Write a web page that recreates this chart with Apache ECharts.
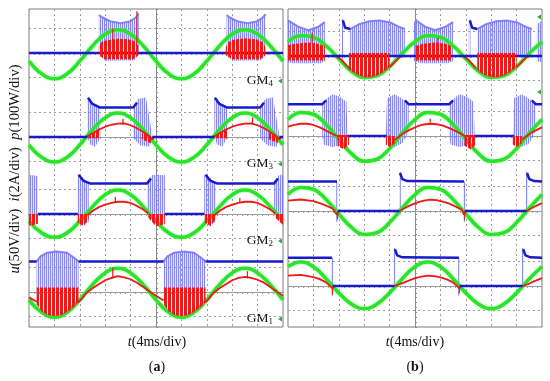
<!DOCTYPE html>
<html><head><meta charset="utf-8">
<script src="https://cdn.jsdelivr.net/npm/echarts@6/dist/echarts.min.js"></script>
<style>html,body{margin:0;padding:0;background:#fff}#c{width:550px;height:381px}</style>
</head><body><div id="c"></div>
<script>
// ================= DATA (time in scope divisions 0..10, amplitude in divisions) =================
const stripLabels = ['4', '3', '2', '1'];            // GM subscripts, top to bottom
const panelLabels = ['a', 'b'];
const xTitle = '(4ms/div)';
// green: voltage, sampled every 0.5 div
const greenA4 = [-0.33,-0.85,-1.05,-0.85,-0.33,0.29,0.77,0.95,0.77,0.29,-0.33,-0.85,-1.05,-0.85,-0.33,0.29,0.77,0.95,0.77,0.29,-0.33];
const greenA3 = [-0.32,-0.83,-1.02,-0.83,-0.32,0.3,0.79,0.98,0.79,0.3,-0.32,-0.83,-1.02,-0.83,-0.32,0.3,0.79,0.98,0.79,0.3,-0.32];
const greenA2 = [-0.29,-0.77,-0.95,-0.77,-0.29,0.3,0.79,0.98,0.79,0.3,-0.29,-0.77,-0.95,-0.77,-0.29,0.3,0.79,0.98,0.79,0.3,-0.29];
const greenA1 = [-0.32,-0.83,-1.03,-0.83,-0.32,0.3,0.78,0.97,0.78,0.3,-0.32,-0.83,-1.03,-0.83,-0.32,0.3,0.78,0.97,0.78,0.3,-0.32];
const greenB4 = [0.58,0.83,0.77,0.41,-0.11,-0.62,-0.88,-0.81,-0.43,0.11,0.58,0.83,0.77,0.41,-0.11,-0.62,-0.88,-0.81,-0.43,0.11,0.58];
const greenB3 = [0.67,0.96,0.89,0.47,-0.13,-0.72,-1.03,-0.95,-0.51,0.12,0.67,0.96,0.89,0.47,-0.13,-0.72,-1.03,-0.95,-0.51,0.12,0.67];
const greenB2 = [0.67,0.96,0.89,0.47,-0.12,-0.67,-0.96,-0.89,-0.47,0.12,0.67,0.96,0.89,0.47,-0.12,-0.67,-0.96,-0.89,-0.47,0.12,0.67];
const greenB1 = [0.79,0.98,0.79,0.3,-0.28,-0.74,-0.92,-0.74,-0.28,0.3,0.79,0.98,0.79,0.3,-0.28,-0.74,-0.92,-0.74,-0.28,0.3,0.79];

// ---- (a) GM4
const blueA4 = [[0,0],[10,0]];
const redA4 = [[0,0],[10,0]];
const redBlkA4 = [
 [[2.75,0.25],[2.85,0.45],[3.1,0.52],[3.5,0.58],[3.9,0.56],[4.2,0.48],[4.3,0.3],[4.3,-0.1],[4.1,-0.25],[3.0,-0.25],[2.75,-0.1]],
 [[7.75,0.25],[7.85,0.45],[8.1,0.55],[8.5,0.6],[8.9,0.56],[9.2,0.45],[9.3,0.25],[9.3,-0.1],[9.1,-0.25],[8.0,-0.25],[7.75,-0.1]]];
const spikeA4 = [[3.3,0.5],[3.3,1.0],null,[4.25,0.4],[4.25,1.7]];
const lavA4 = [
 [[2.75,1.55],[2.9,1.45],[3.2,1.3],[3.6,1.22],[4.0,1.3],[4.2,1.45],[4.32,1.62],[4.32,-0.05],[4.15,-0.3],[3.0,-0.32],[2.75,-0.05]],
 [[7.78,1.55],[7.9,1.45],[8.2,1.3],[8.6,1.22],[9.0,1.3],[9.2,1.45],[9.32,1.58],[9.32,-0.05],[9.15,-0.3],[8.0,-0.32],[7.78,-0.05]]];
const edgeA4 = [[2.75,1.55],[2.9,1.45],[3.2,1.3],[3.6,1.22],[4.0,1.3],[4.2,1.45],[4.32,1.62],null,
 [7.78,1.55],[7.9,1.45],[8.2,1.3],[8.6,1.22],[9.0,1.3],[9.2,1.45],[9.32,1.58]];
// ---- (a) GM3
const blueA3 = [[0,0],[2.3,0],null,[2.32,1.6],[2.5,1.35],[2.8,1.2],[4.1,1.2],[4.25,1.4],null,[4.85,0],[7.3,0],null,
 [7.32,1.6],[7.5,1.35],[7.8,1.2],[9.1,1.2],[9.25,1.4],null,[9.85,0],[10,0]];
const redA3 = [[0,0],[2.25,0],[2.5,0.15],[2.75,0.3],[3.0,0.42],[3.25,0.5],[3.5,0.55],[3.75,0.56],[4.0,0.48],[4.25,0.36],[4.5,0.2],[4.75,0.02],[4.85,-0.1],[4.95,0],
 [7.25,0],[7.5,0.15],[7.75,0.3],[8.0,0.42],[8.25,0.5],[8.5,0.55],[8.75,0.56],[9.0,0.48],[9.25,0.36],[9.5,0.2],[9.75,0.02],[9.85,-0.1],[9.95,0],[10,0]];
const redBlkA3 = [
 [[2.3,0],[2.8,0.32],[2.8,-0.05],[2.3,-0.05]],
 [[4.45,0.18],[4.8,0.02],[4.8,-0.25],[4.45,-0.1]],
 [[7.3,0],[7.8,0.32],[7.8,-0.05],[7.3,-0.05]],
 [[9.45,0.18],[9.8,0.02],[9.8,-0.25],[9.45,-0.1]]];
const spikeA3 = [[3.7,0.5],[3.7,0.75],null,[8.8,0.5],[8.8,0.8]];
const lavA3 = [
 [[2.3,0],[2.3,1.62],[2.55,1.35],[2.8,1.2],[2.8,-0.05],[2.6,-0.4],[2.4,-0.3]],
 [[4.1,1.2],[4.3,1.55],[4.6,1.62],[4.85,0.1],[4.75,-0.4],[4.4,-0.35],[4.1,-0.05]],
 [[7.3,0],[7.3,1.62],[7.55,1.35],[7.8,1.2],[7.8,-0.05],[7.6,-0.4],[7.4,-0.3]],
 [[9.1,1.2],[9.3,1.55],[9.6,1.62],[9.85,0.1],[9.75,-0.4],[9.4,-0.35],[9.1,-0.05]]];
const edgeA3 = [];
// ---- (a) GM2
const blueA2 = [[0.35,0],[1.92,0],null,[1.95,1.6],[2.15,1.35],[2.4,1.25],[4.65,1.25],[4.8,1.45],null,[5.35,0],[6.9,0],null,
 [6.95,1.6],[7.15,1.35],[7.4,1.25],[9.65,1.25],[9.8,1.45]];
const redA2 = [[0.35,0],[1.9,0],null,[2.3,-0.05],[2.5,0.12],[2.75,0.28],[3.0,0.38],[3.25,0.45],[3.5,0.5],[3.75,0.5],[4.0,0.45],[4.25,0.33],[4.5,0.18],[4.7,0.02],null,
 [5.35,0],[6.9,0],null,[7.3,-0.05],[7.5,0.12],[7.75,0.28],[8.0,0.38],[8.25,0.45],[8.5,0.5],[8.75,0.5],[9.0,0.45],[9.25,0.33],[9.5,0.18],[9.7,0.02]];
const redBlkA2 = [
 [[0,0],[0.35,0],[0.35,-0.4],[0.1,-0.48],[0,-0.45]],
 [[1.92,0],[2.35,0],[2.35,-0.2],[2.15,-0.5],[1.92,-0.35]],
 [[4.7,0],[5.35,0],[5.35,-0.42],[5.0,-0.5],[4.7,-0.15]],
 [[6.92,0],[7.35,0],[7.35,-0.2],[7.15,-0.5],[6.92,-0.35]],
 [[9.7,0],[10,0],[10,-0.45],[9.7,-0.15]]];
const spikeA2 = [[3.4,0.45],[3.4,0.7],null,[8.3,0.45],[8.3,0.65]];
const lavA2 = [
 [[0,1.6],[0.35,1.55],[0.35,-0.1],[0.15,-0.35],[0,-0.3]],
 [[1.92,1.6],[2.1,1.5],[2.35,1.25],[2.35,-0.35],[2.1,-0.4],[1.92,0]],
 [[4.65,1.25],[4.85,1.6],[5.35,1.58],[5.35,-0.1],[5.1,-0.38],[4.65,0]],
 [[6.9,1.6],[7.1,1.5],[7.35,1.25],[7.35,-0.35],[7.1,-0.4],[6.9,0]],
 [[9.65,1.25],[9.85,1.6],[10,1.6],[10,-0.3],[9.65,0]]];
const edgeA2 = [];
// ---- (a) GM1
const blueA1 = [[0,1.25],[0.3,1.25],null,[1.95,1.25],[5.3,1.25],null,[6.95,1.25],[10,1.25]];
const redA1 = [[0,-0.22],[0.3,-0.4],null,[1.95,-0.42],[2.1,-0.25],[2.25,-0.05],[2.5,0.15],[2.75,0.32],[3.0,0.48],[3.25,0.58],[3.5,0.65],[3.75,0.6],[4.0,0.52],[4.25,0.38],[4.5,0.2],[4.75,0.02],[5.0,-0.15],[5.3,-0.35],null,
 [6.95,-0.42],[7.1,-0.25],[7.25,-0.05],[7.5,0.15],[7.75,0.32],[8.0,0.48],[8.25,0.58],[8.5,0.62],[8.75,0.58],[9.0,0.5],[9.25,0.38],[9.5,0.2],[9.75,0.02],[10,-0.15]];
const redBlkA1 = [
 [[0.3,0.18],[1.95,0.18],[1.95,-0.42],[1.75,-0.62],[1.5,-0.82],[1.25,-0.95],[1.0,-0.98],[0.75,-0.95],[0.5,-0.8],[0.3,-0.5]],
 [[5.3,0.18],[6.95,0.18],[6.95,-0.42],[6.75,-0.62],[6.5,-0.82],[6.25,-0.95],[6.0,-0.98],[5.75,-0.95],[5.5,-0.8],[5.3,-0.5]]];
const spikeA1 = [[3.3,0.55],[3.3,1.0],null,[8.6,0.55],[8.6,0.85]];
const lavA1 = [
 [[0.3,1.25],[0.45,1.45],[0.7,1.6],[1.1,1.65],[1.5,1.6],[1.75,1.42],[1.95,1.25],[1.95,0.1],[0.3,0.1]],
 [[5.3,1.25],[5.45,1.45],[5.7,1.6],[6.1,1.65],[6.5,1.6],[6.75,1.42],[6.95,1.25],[6.95,0.1],[5.3,0.1]]];
const edgeA1 = [[0.3,1.25],[0.45,1.45],[0.7,1.6],[1.1,1.65],[1.5,1.6],[1.75,1.42],[1.95,1.25],null,
 [5.3,1.25],[5.45,1.45],[5.7,1.6],[6.1,1.65],[6.5,1.6],[6.75,1.42],[6.95,1.25]];
// ---- (b) GM4
const blueB4 = [[0,0],[10,0],null,[2.16,1.45],[2.25,1.15],[2.45,1.1],null,[7.16,1.45],[7.25,1.15],[7.45,1.1]];
const redB4 = [[1.45,0],[1.9,0],[2.1,-0.15],[2.4,-0.5],null,[4.0,-0.45],[4.2,-0.25],[4.4,-0.05],[4.6,0],[4.95,0],null,
 [6.5,0],[6.9,0],[7.1,-0.15],[7.4,-0.5],null,[9.0,-0.45],[9.2,-0.25],[9.4,-0.05],[9.6,0],[9.8,0]];
const redBlkB4 = [
 [[0,0.45],[0.3,0.5],[0.8,0.55],[1.2,0.5],[1.45,0.4],[1.45,-0.18],[0,-0.18]],
 [[2.4,0.12],[4.0,0.12],[4.0,-0.45],[3.75,-0.65],[3.5,-0.8],[3.25,-0.87],[3.0,-0.87],[2.75,-0.78],[2.5,-0.62],[2.4,-0.55]],
 [[5.0,0.4],[5.3,0.5],[5.8,0.55],[6.2,0.5],[6.45,0.4],[6.45,-0.18],[5.0,-0.18]],
 [[7.45,0.12],[9.0,0.12],[9.0,-0.45],[8.75,-0.65],[8.5,-0.8],[8.25,-0.87],[8.0,-0.87],[7.75,-0.78],[7.5,-0.62],[7.45,-0.55]]];
const spikeB4 = [[0.95,0.5],[0.95,0.95],null,[5.9,0.5],[5.9,0.75]];
const lavB4 = [
 [[0,1.45],[0.4,1.2],[0.8,1.05],[1.2,1.2],[1.45,1.38],[1.45,-0.2],[1.3,-0.3],[0.2,-0.3],[0,-0.25]],
 [[2.12,1.5],[2.18,1.5],[2.18,-0.1],[2.12,-0.1]],
 [[2.45,1.1],[2.8,1.3],[3.2,1.42],[3.6,1.45],[4.0,1.38],[4.35,1.2],[4.6,1.1],[4.6,0],[2.45,0]],
 [[4.95,1.4],[5.05,1.45],[5.4,1.2],[5.8,1.05],[6.2,1.2],[6.5,1.38],[6.5,-0.2],[6.3,-0.3],[5.2,-0.3],[4.95,-0.2]],
 [[7.12,1.5],[7.18,1.5],[7.18,-0.1],[7.12,-0.1]],
 [[7.45,1.1],[7.8,1.3],[8.2,1.42],[8.6,1.45],[9.0,1.38],[9.35,1.2],[9.6,1.1],[9.6,0],[7.45,0]],
 [[9.8,1.3],[10,1.45],[10,-0.25],[9.8,-0.2]]];
const edgeB4 = [[0,1.45],[0.4,1.2],[0.8,1.05],[1.2,1.2],[1.45,1.38],null,[2.45,1.1],[2.8,1.3],[3.2,1.42],[3.6,1.45],[4.0,1.38],[4.35,1.2],[4.6,1.1],null,
 [5.05,1.45],[5.4,1.2],[5.8,1.05],[6.2,1.2],[6.5,1.38],null,[7.45,1.1],[7.8,1.3],[8.2,1.42],[8.6,1.45],[9.0,1.38],[9.35,1.2],[9.6,1.1]];
// ---- (b) GM3
const blueB3 = [[0,1.3],[1.35,1.3],[1.5,1.45],null,[2.35,0],[3.9,0],null,[4.6,1.45],[4.75,1.3],[6.35,1.3],[6.5,1.45],null,
 [7.35,0],[8.9,0],null,[9.6,1.45],[9.75,1.3],[10,1.3]];
const redB3 = [[0,0.38],[0.25,0.45],[0.5,0.5],[0.75,0.5],[1.0,0.45],[1.25,0.35],[1.5,0.22],[1.75,0.08],[1.95,0],[2.4,0],[3.85,0],null,
 [4.2,-0.15],[4.4,0],[4.6,0.15],[4.85,0.28],[5.1,0.4],[5.35,0.47],[5.6,0.5],[5.85,0.48],[6.1,0.42],[6.35,0.32],[6.6,0.2],[6.85,0.07],[6.95,0],[7.4,0],[8.85,0],null,
 [9.2,-0.15],[9.4,0],[9.6,0.15],[9.85,0.28],[10,0.35]];
const redBlkB3 = [
 [[1.95,0],[2.4,0],[2.4,-0.35],[2.2,-0.55],[1.95,-0.4]],
 [[3.85,0],[4.2,0],[4.2,-0.3],[4.0,-0.45],[3.85,-0.35]],
 [[6.95,0],[7.4,0],[7.4,-0.35],[7.2,-0.55],[6.95,-0.4]],
 [[8.85,0],[9.2,0],[9.2,-0.3],[9.0,-0.45],[8.85,-0.35]]];
const spikeB3 = [[5.6,0.45],[5.6,0.7]];
const lavB3 = [
 [[1.35,1.3],[1.55,1.55],[1.75,1.7],[2.05,1.6],[2.3,1.4],[2.35,0],[2.2,-0.35],[1.75,-0.45],[1.4,-0.35],[1.35,0]],
 [[3.85,0],[3.9,1.55],[4.2,1.7],[4.45,1.55],[4.75,1.3],[4.75,0.2],[4.5,-0.3],[4.2,-0.45],[3.9,-0.3]],
 [[6.35,1.3],[6.55,1.55],[6.75,1.7],[7.05,1.6],[7.3,1.4],[7.35,0],[7.2,-0.35],[6.75,-0.45],[6.4,-0.35],[6.35,0]],
 [[8.85,0],[8.9,1.55],[9.2,1.7],[9.45,1.55],[9.75,1.3],[9.75,0.2],[9.5,-0.3],[9.2,-0.45],[8.9,-0.3]]];
const edgeB3 = [];
// ---- (b) GM2
const blueB2 = [[0,1.2],[1.93,1.2],null,[1.96,0],[4.38,0],null,[4.41,1.55],[4.5,1.3],[4.7,1.22],[6.93,1.2],null,[6.96,0],[9.38,0],null,[9.41,1.55],[9.5,1.3],[9.7,1.22],[10,1.2]];
const redB2 = [[0,0.42],[0.5,0.47],[1.0,0.4],[1.25,0.32],[1.5,0.22],[1.75,0.1],[1.93,-0.15],[2.0,0],[4.4,0],[4.6,0.12],[4.85,0.25],[5.1,0.35],[5.35,0.42],[5.6,0.46],[5.85,0.44],
 [6.1,0.38],[6.35,0.3],[6.6,0.18],[6.85,0.05],[6.93,-0.15],[7.0,0],[9.4,0],[9.6,0.12],[9.85,0.25],[10,0.32]];
const redBlkB2 = [];
const spikeB2 = [[1.95,0],[1.95,-0.35],null,[6.95,0],[6.95,-0.35]];
const lavB2 = [
 [[1.9,1.2],[1.97,1.2],[1.97,-0.45],[1.9,-0.45]],
 [[4.37,1.6],[4.44,1.6],[4.44,-0.15],[4.37,-0.15]],
 [[6.9,1.2],[6.97,1.2],[6.97,-0.45],[6.9,-0.45]],
 [[9.37,1.6],[9.44,1.6],[9.44,-0.15],[9.37,-0.15]]];
const edgeB2 = [];
// ---- (b) GM1
const blueB1 = [[0,1.15],[1.73,1.15],null,[1.76,0],[4.18,0],null,[4.21,1.5],[4.3,1.25],[4.5,1.17],[6.73,1.15],null,[6.76,0],[9.23,0],null,[9.26,1.5],[9.35,1.25],[9.55,1.17],[10,1.15]];
const redB1 = [[0,0.42],[0.5,0.45],[1.0,0.36],[1.25,0.28],[1.5,0.15],[1.75,-0.1],[1.8,0],[4.2,0],[4.5,0.12],[4.75,0.22],[5.0,0.32],[5.25,0.38],[5.5,0.42],[5.75,0.4],
 [6.0,0.35],[6.25,0.27],[6.5,0.15],[6.75,-0.1],[6.8,0],[9.25,0],[9.5,0.1],[9.75,0.22],[10,0.32]];
const redBlkB1 = [];
const spikeB1 = [[1.75,0],[1.75,-0.35],null,[6.75,0],[6.75,-0.3]];
const lavB1 = [
 [[1.7,1.15],[1.77,1.15],[1.77,-0.4],[1.7,-0.4]],
 [[4.16,1.55],[4.23,1.55],[4.23,-0.1],[4.16,-0.1]],
 [[6.7,1.15],[6.77,1.15],[6.77,-0.4],[6.7,-0.4]],
 [[9.21,1.55],[9.28,1.55],[9.28,-0.1],[9.21,-0.1]]];
const edgeB1 = [];

// ================= LAYOUT / STYLE =================
const FONT = 'Liberation Serif';
const DIV = 24.5;
const panelLeft = [29, 288], panelW = 254, panelTop = 9, panelH = 318;
const zeroY = [[53,137,214,292],[56,136,211,286]];
const C_GREEN = '#2ae42a', C_BLUE = '#1a1acc', C_RED = '#f01818';
const GRIDC = '#9c9c9c';

const strips = [
 {p:0,k:0,green:greenA4,blue:blueA4,red:redA4,blk:redBlkA4,spk:spikeA4,lav:lavA4,edge:edgeA4},
 {p:0,k:1,green:greenA3,blue:blueA3,red:redA3,blk:redBlkA3,spk:spikeA3,lav:lavA3,edge:edgeA3},
 {p:0,k:2,green:greenA2,blue:blueA2,red:redA2,blk:redBlkA2,spk:spikeA2,lav:lavA2,edge:edgeA2},
 {p:0,k:3,green:greenA1,blue:blueA1,red:redA1,blk:redBlkA1,spk:spikeA1,lav:lavA1,edge:edgeA1},
 {p:1,k:0,green:greenB4,blue:blueB4,red:redB4,blk:redBlkB4,spk:spikeB4,lav:lavB4,edge:edgeB4},
 {p:1,k:1,green:greenB3,blue:blueB3,red:redB3,blk:redBlkB3,spk:spikeB3,lav:lavB3,edge:edgeB3},
 {p:1,k:2,green:greenB2,blue:blueB2,red:redB2,blk:redBlkB2,spk:spikeB2,lav:lavB2,edge:edgeB2},
 {p:1,k:3,green:greenB1,blue:blueB1,red:redB1,blk:redBlkB1,spk:spikeB1,lav:lavB1,edge:edgeB1}
];

function stripeCanvas(color, period, w) {
  const c = document.createElement('canvas'); c.width = period; c.height = 4;
  const g = c.getContext('2d'); g.fillStyle = color; g.fillRect(0, 0, w, 4); return c;
}
const redPat = {image: stripeCanvas(C_RED, 4, 3), repeat: 'repeat'};
const lavPat = {image: stripeCanvas('rgba(105,105,245,0.75)', 2, 1), repeat: 'repeat'};

const brk = a => a.map(p => p === null ? ['-', '-'] : p);

const grid = [], xAxis = [], yAxis = [], series = [];
const noAxis = {axisLabel:{show:false}, axisTick:{show:false}};
for (let p = 0; p < 2; p++) {
  grid.push({left: panelLeft[p], top: panelTop, width: panelW, height: panelH, show: true,
    borderColor: '#7a7a7a', borderWidth: 1, backgroundColor: 'transparent'});
  xAxis.push({gridIndex: p, type: 'value', min: -5, max: 5, interval: 1, ...noAxis, axisLine:{show:false},
    splitLine:{show:true, showMinLine:false, showMaxLine:false, lineStyle:{color:GRIDC, type:[2,3], width:1}}});
  yAxis.push({gridIndex: p, type: 'value', min: 0, max: 65, interval: 1, axisLabel:{show:false},
    axisLine:{show:true, onZero:true, lineStyle:{color:'#8a8a8a', width:1}},
    axisTick:{show:true, inside:true, length:2, lineStyle:{color:'#8a8a8a'}}, splitLine:{show:false}});
}
strips.forEach((s, i) => {
  const g = i + 2;
  const zy = zeroY[s.p][s.k];
  grid.push({left: panelLeft[s.p], top: zy - 2 * DIV, width: panelW, height: 4 * DIV, show: false});
  xAxis.push({gridIndex: g, type: 'value', min: 0, max: 10, interval: 1, axisLabel:{show:false},
    axisLine:{show:true, onZero:true, lineStyle:{color:'#9a9a9a', width:1}},
    axisTick:{show:false}, minorTick:{show:true, splitNumber:5, length:2, lineStyle:{color:'#9a9a9a'}},
    splitLine:{show:false}});
  yAxis.push({gridIndex: g, type: 'value', min: -2, max: 2, interval: 1, ...noAxis, axisLine:{show:false},
    splitLine:{show:true, showMinLine:false, showMaxLine:false, lineStyle:{color:GRIDC, type:[2,3], width:1}}});
  const base = {xAxisIndex: g, yAxisIndex: g, silent: true, animation: false};
  const poly = (polys, styles, z) => ({...base, type: 'custom', z,
    data: polys.map(pg => [pg[0][0], pg[0][1]]), encode: {x: 0, y: 1},
    renderItem: (params, api) => {
      const pts = polys[params.dataIndex].map(q => api.coord(q));
      return {type: 'group', children: styles.map(st => ({type: 'polygon', shape: {points: pts}, style: st}))};
    }});
  const line = (data, color, width, z, extra) => ({...base, type: 'line', z, data: brk(data),
    symbol: 'none', showSymbol: false, connectNulls: false, lineStyle: {color, width}, ...(extra || {})});
  // lavender chopped regions
  series.push(poly(s.lav, [{fill: 'rgba(165,165,255,0.3)'}, {fill: lavPat}], 1));
  if (s.edge.length) series.push(line(s.edge, 'rgba(115,115,235,0.85)', 2, 2));
  // green voltage (light fuzz + line)
  const gd = s.green.map((v, j) => [j * 0.5, v]);
  series.push(line(gd, 'rgba(120,240,120,0.22)', 6.5, 3, {smooth: 0.45}));
  series.push(line(gd, C_GREEN, 3.6, 4, {smooth: 0.45}));
  // red current / power trace
  series.push(line(s.red, C_RED, 1.8, 5));
  // dark blue trace
  series.push(line(s.blue, C_BLUE, 2.5, 6));
  // red chopped blocks + spikes
  if (s.blk.length) series.push(poly(s.blk, [{fill: redPat}], 7));
  if (s.spk.length) series.push(line(s.spk, C_RED, 1.2, 7));
});

// ================= TEXT =================
const graphic = [];
const tx = (x, y, text, rich, extra, fs) => graphic.push(Object.assign({type: 'text', x, y, silent: true,
  style: {text, fontFamily: FONT, fontSize: fs || 14, fill: '#111', align: 'center', verticalAlign: 'middle',
    textAlign: 'center', textVerticalAlign: 'middle', rich}}, extra || {}));
const itStyle = fs => ({i: {fontStyle: 'italic', fontFamily: FONT, fontSize: fs, fill: '#111'}});
tx(15, 169, '{i|u}(50V/div)  {i|i}(2A/div)  {i|p}(100W/div)', itStyle(14.6), {rotation: Math.PI / 2}, 14.6);
[157, 415].forEach((cx, p) => {
  tx(cx, 342, '{i|t}' + xTitle, itStyle(14));
  tx(cx, 367, '({b|' + panelLabels[p] + '})', {b: {fontWeight: 'bold', fontFamily: FONT, fontSize: 14, fill: '#111'}});
});
const gmY = [80, 163, 240, 318];
gmY.forEach((y, k) => {
  graphic.push({type: 'text', x: 273, y, silent: true, style: {text: '{m|GM}{s|' + stripLabels[k] + '}',
    align: 'right', verticalAlign: 'middle', textAlign: 'right', textVerticalAlign: 'middle',
    rich: {m: {fontFamily: FONT, fontSize: 13.5, fill: '#111', lineHeight: 17},
           s: {fontFamily: FONT, fontSize: 9, fill: '#111', verticalAlign: 'bottom'}}}});
  graphic.push({type: 'polygon', silent: true, shape: {points: [[278, y + 1], [282, y - 1.5], [282, y + 3.5]]}, style: {fill: '#3a3'}});
});
[17, 92].forEach(y => graphic.push({type: 'polygon', silent: true,
  shape: {points: [[537, y], [541, y - 2.5], [541, y + 2.5]]}, style: {fill: '#3a3'}}));

const chart = echarts.init(document.getElementById('c'), null, {renderer: 'canvas'});
chart.setOption({animation: false, backgroundColor: '#fff', grid, xAxis, yAxis, series, graphic});
</script></body></html>
